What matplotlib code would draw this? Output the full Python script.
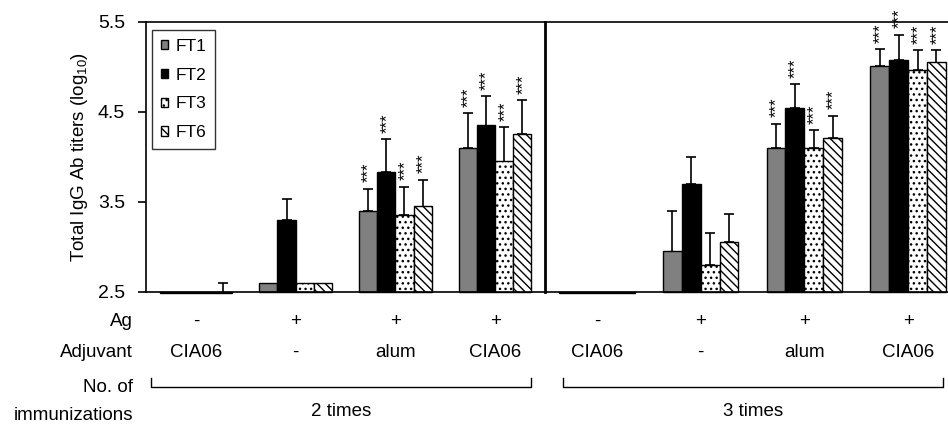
import numpy as np
import matplotlib
matplotlib.use("Agg")
import matplotlib.pyplot as plt
from matplotlib import transforms
from matplotlib.lines import Line2D

plt.rcParams['font.family'] = ['Liberation Sans', 'DejaVu Sans']
plt.rcParams['mathtext.fontset'] = 'custom'
plt.rcParams['mathtext.rm'] = 'Liberation Sans'
plt.rcParams['mathtext.default'] = 'regular'
plt.rcParams['hatch.linewidth'] = 1.0

# ---------------- data ----------------
series = ['FT1', 'FT2', 'FT3', 'FT6']
ag_labels = ['-', '+', '+', '+']
adjuvant_labels = ['CIA06', '-', 'alum', 'CIA06']
immunizations = ['2 times', '3 times']

# means (log10 titers), 2 immunizations
ft1_2x = [2.485, 2.60, 3.40, 4.10]
ft2_2x = [2.485, 3.30, 3.83, 4.35]
ft3_2x = [2.485, 2.60, 3.36, 3.95]
ft6_2x = [2.485, 2.60, 3.45, 4.26]
# upper end of error bars (nan = none)
ft1_2x_up = [np.nan, np.nan, 3.65, 4.49]
ft2_2x_up = [np.nan, 3.53, 4.20, 4.68]
ft3_2x_up = [np.nan, np.nan, 3.67, 4.33]
ft6_2x_up = [2.60, np.nan, 3.75, 4.63]

# 3 immunizations
ft1_3x = [2.485, 2.95, 4.10, 5.01]
ft2_3x = [2.485, 3.70, 4.54, 5.08]
ft3_3x = [2.485, 2.80, 4.10, 4.97]
ft6_3x = [2.485, 3.06, 4.21, 5.05]
ft1_3x_up = [np.nan, 3.40, 4.37, 5.20]
ft2_3x_up = [np.nan, 4.00, 4.81, 5.36]
ft3_3x_up = [np.nan, 3.16, 4.30, 5.19]
ft6_3x_up = [np.nan, 3.37, 4.46, 5.19]

# significance (***) per group
sig_2x = [False, False, True, True]
sig_3x = [False, False, True, True]

yticks = [2.5, 3.5, 4.5, 5.5]
ytick_labels = ['2.5', '3.5', '4.5', '5.5']

# ---------------- styles ----------------
styles = [
    dict(facecolor='#808080', hatch=None),
    dict(facecolor='black', hatch=None),
    dict(facecolor='white', hatch='...'),
    dict(facecolor='white', hatch='\\\\\\\\'),
]

W, H = 948, 425
fig = plt.figure(figsize=(W / 100, H / 100), dpi=100)

def fx(px):
    return px / W

def fy(py):
    return 1 - py / H

axL = fig.add_axes([fx(146), fy(292), (545 - 146) / W, (292 - 22) / H])
axR = fig.add_axes([fx(545), fy(292), (960 - 545) / W, (292 - 22) / H])

bw = 0.182
YMIN = 2.5

def draw_panel(ax, means, ups, sig):
    x = np.arange(4) + 0.5
    containers = []
    for i, (m, u, st) in enumerate(zip(means, ups, styles)):
        xi = x + (i - 1.5) * bw
        m = np.asarray(m)
        bars = ax.bar(xi, m - YMIN, bottom=YMIN, width=bw, color=st['facecolor'],
                      edgecolor='black', linewidth=1.0, hatch=st['hatch'],
                      clip_on=False, zorder=2)
        containers.append(bars)
        u = np.asarray(u, dtype=float)
        ok = np.isfinite(u)
        if ok.any():
            ax.errorbar(xi[ok], m[ok], yerr=[np.zeros(ok.sum()), u[ok] - m[ok]],
                        fmt='none', ecolor='black', elinewidth=1.2, capsize=3.8,
                        capthick=1.2, zorder=1, clip_on=False)
        for j in range(4):
            if sig[j]:
                top = u[j] if np.isfinite(u[j]) else m[j]
                ax.annotate('***', xy=(xi[j], top), xytext=(0.5, 4.5),
                            textcoords='offset points', rotation=90,
                            ha='center', va='bottom', fontsize=12,
                            annotation_clip=False)
    ax.set_xlim(0, 4)
    ax.set_ylim(2.5, 5.5)
    ax.set_xticks([])
    return containers

cont = draw_panel(axL, [ft1_2x, ft2_2x, ft3_2x, ft6_2x],
                  [ft1_2x_up, ft2_2x_up, ft3_2x_up, ft6_2x_up], sig_2x)
draw_panel(axR, [ft1_3x, ft2_3x, ft3_3x, ft6_3x],
           [ft1_3x_up, ft2_3x_up, ft3_3x_up, ft6_3x_up], sig_3x)

# axes styling
axL.set_yticks(yticks)
axL.set_yticklabels(ytick_labels, fontsize=14)
axL.tick_params(axis='y', direction='out', length=6, width=1.2, pad=9)
axL.spines['right'].set_visible(False)
for s in ['left', 'top', 'bottom']:
    axL.spines[s].set_linewidth(1.2)
axR.set_yticks([])
axR.spines['right'].set_visible(False)
axR.spines['left'].set_linewidth(2.0)
for s in ['top', 'bottom']:
    axR.spines[s].set_linewidth(1.2)

fig.text(fx(80), fy(157), 'Total IgG Ab titers (log$_{10}$)', rotation=90,
         ha='center', va='center', fontsize=13.5)

# legend
leg = axL.legend(cont, series, loc='upper left',
                 bbox_to_anchor=(fx(152), fy(30)), bbox_transform=fig.transFigure,
                 fontsize=12.5, frameon=True, fancybox=False, borderaxespad=0,
                 handlelength=0.45, handleheight=0.45, handletextpad=0.4,
                 labelspacing=0.8, borderpad=0.5)
leg.get_frame().set_edgecolor('black')
leg.get_frame().set_linewidth(1.0)

# row labels below axis
for ax in (axL, axR):
    tr = transforms.blended_transform_factory(ax.transData, fig.transFigure)
    for j in range(4):
        ax.text(j + 0.5, fy(326), ag_labels[j], transform=tr, ha='center',
                va='baseline', fontsize=13.5, clip_on=False)
        ax.text(j + 0.5, fy(357), adjuvant_labels[j], transform=tr, ha='center',
                va='baseline', fontsize=13.5, clip_on=False)

fig.text(fx(133), fy(326), 'Ag', ha='right', va='baseline', fontsize=13.5)
fig.text(fx(133), fy(357), 'Adjuvant', ha='right', va='baseline', fontsize=13.5)
fig.text(fx(133), fy(392), 'No. of', ha='right', va='baseline', fontsize=13.5)
fig.text(fx(133), fy(420), 'immunizations', ha='right', va='baseline', fontsize=13.5)

# brackets
for (x0, x1), lab in zip([(151, 531), (563, 943)], immunizations):
    fig.add_artist(Line2D([fx(x0), fx(x0), fx(x1), fx(x1)],
                          [fy(378), fy(387), fy(387), fy(378)],
                          transform=fig.transFigure, color='black', lw=1.0))
    fig.text(fx((x0 + x1) / 2), fy(416), lab, ha='center', va='baseline', fontsize=13.5)

fig.savefig('out.png', dpi=100)
